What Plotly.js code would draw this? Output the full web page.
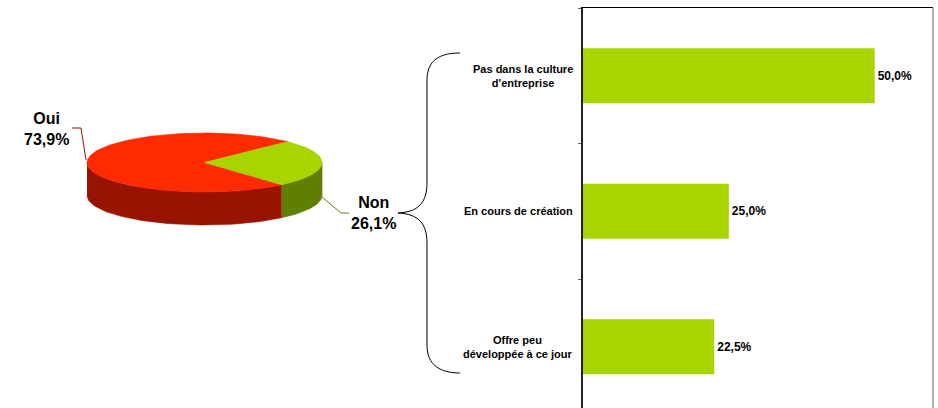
<!DOCTYPE html>
<html>
<head>
<meta charset="utf-8">
<script src="https://cdn.plot.ly/plotly-3.0.1.min.js"></script>
<style>html,body{margin:0;padding:0;background:#fff;}#chart{width:938px;height:408px;}</style>
</head>
<body>
<div id="chart"></div>
<script>
// ---- Data ----
var pieLabels = ['Oui', 'Non'];
var pieValues = [73.9, 26.1];
var barCategories = ["Pas dans la culture<br>d'entreprise", "En cours de création", "Offre peu<br>développée à ce jour"];
var barValues = [50.0, 25.0, 22.5];

function fmt(v){ return v.toFixed(1).replace('.', ',') + '%'; }

// ---- Pie geometry (pixel-mapped helper axis) ----
var cx = 204.5, cy = 162.5, rx = 117.5, ry = 29.5, depth = 33;
var startAngle = 45; // degrees, Non slice starts here going clockwise
var topColors = ['#FF2A00', '#A8D400'];
var sideColors = ['#991400', '#5F7F00'];

function pt(a){ var r = a*Math.PI/180; return [cx + rx*Math.cos(r), cy - ry*Math.sin(r)]; }
function arc(a0, a1, dy){
  var xs=[], ys=[], n=Math.max(2, Math.ceil(Math.abs(a1-a0)/2));
  for (var i=0;i<=n;i++){ var a=a0+(a1-a0)*i/n; var p=pt(a); xs.push(p[0]); ys.push(p[1]+(dy||0)); }
  return [xs, ys];
}
var total = pieValues.reduce(function(s,v){return s+v;},0);
var nonSpan = pieValues[1]/total*360;
// Non: from startAngle clockwise; Oui: the rest
var nonA0 = startAngle - nonSpan, nonA1 = startAngle;       // e.g. -49 .. 45
var ouiA0 = startAngle, ouiA1 = startAngle + (pieValues[0]/total*360); // 45 .. 311
var spans = [[ouiA0, ouiA1], [nonA0 + 360, nonA1 + 360]];

var traces = [];
function sideTrace(a0, a1, color){
  var lo = Math.max(a0, 180), hi = Math.min(a1, 360);
  if (hi <= lo) return;
  var top = arc(lo, hi, 0), bot = arc(hi, lo, depth);
  traces.push({type:'scatter', mode:'lines', x: top[0].concat(bot[0]), y: top[1].concat(bot[1]),
    fill:'toself', fillcolor: color, line:{width:0.6, color: color}, xaxis:'x2', yaxis:'y2', hoverinfo:'skip', showlegend:false});
}
// sides (red: 180..311, green: 311..360)
sideTrace(spans[0][0], spans[0][1], sideColors[0]);
sideTrace(spans[1][0]-360+360, 360, sideColors[1]);
sideTrace(spans[1][0]-360, spans[1][1]-360, sideColors[1]);
// tops
for (var k=0;k<2;k++){
  var a = arc(spans[k][0], spans[k][1], 0);
  traces.push({type:'scatter', mode:'lines', x:[cx].concat(a[0]).concat([cx]), y:[cy].concat(a[1]).concat([cy]),
    fill:'toself', fillcolor: topColors[k], line:{width:0.6, color: topColors[k]}, xaxis:'x2', yaxis:'y2', hoverinfo:'skip', showlegend:false});
}

// ---- Bars ----
traces.push({
  type:'bar', orientation:'h', y: barCategories, x: barValues,
  marker:{color:'#A8D400'}, text: barValues.map(function(v){return '<b>'+fmt(v)+'</b>';}),
  textposition:'outside', cliponaxis:false, textfont:{size:12, color:'#000', family:'Liberation Sans, Arial, sans-serif'},
  hoverinfo:'skip', showlegend:false, xaxis:'x', yaxis:'y'
});

var ff = 'Liberation Sans, Arial, sans-serif';
var annotations = [];
barCategories.forEach(function(c){
  annotations.push({xref:'paper', yref:'y', x: 575/933, y: c, xanchor:'right', yanchor:'middle', align:'center',
    text:'<b>'+c+'</b>', showarrow:false, font:{size:11, color:'#000', family:ff}});
});
annotations.push({xref:'x2', yref:'y2', x:46, y:128.5, text:'<b>'+pieLabels[0]+'</b><br><b>'+fmt(pieValues[0])+'</b>',
  showarrow:false, align:'center', font:{size:16, color:'#000', family:ff}});
annotations.push({xref:'x2', yref:'y2', x:373, y:212.5, text:'<b>'+pieLabels[1]+'</b><br><b>'+fmt(pieValues[1])+'</b>',
  showarrow:false, align:'center', font:{size:16, color:'#000', family:ff}});

var shapes = [
  // right frame line
  {type:'line', xref:'paper', yref:'paper', x0:1, x1:1, y0:0, y1:1, line:{color:'#999999', width:1.5}},
  // Oui leader line
  {type:'path', xref:'x2', yref:'y2', path:'M 72 128 L 81 128 L 86 160', line:{color:'#991400', width:1}},
  // Non leader line
  {type:'path', xref:'x2', yref:'y2', path:'M 322 197 L 341 213 L 349 213', line:{color:'#6B7A00', width:1}},
  // curly brace
  {type:'path', xref:'x2', yref:'y2',
   path:'M 460 53 C 440 53 427 60 427 80 L 427 183 C 427 203 418 212 398 213 C 418 214 427 223 427 243 L 427 345 C 427 365 440 373 460 373',
   line:{color:'#000', width:1}}
];

var layout = {
  width:938, height:408, margin:{l:0, r:5, t:8, b:0, pad:0},
  paper_bgcolor:'#fff', plot_bgcolor:'rgba(0,0,0,0)', showlegend:false,
  font:{family:ff, color:'#000'},
  bargap: 0.594,
  xaxis:{domain:[583/933, 1], range:[0, 60], side:'top', showline:true, linecolor:'#000', linewidth:1.3,
    showgrid:false, zeroline:false, showticklabels:false, ticks:'', fixedrange:true},
  yaxis:{domain:[0,1], range:[2.452, -0.5], showline:true, linecolor:'#222', linewidth:1.6,
    ticks:'outside', tickson:'boundaries', ticklen:3, tickcolor:'#666', showticklabels:false,
    showgrid:false, zeroline:false, fixedrange:true},
  xaxis2:{domain:[0, 0.6], range:[0, 0.6*933], anchor:'y2', visible:false, fixedrange:true},
  yaxis2:{domain:[0, 1], range:[408, 8], anchor:'x2', visible:false, fixedrange:true},
  annotations: annotations, shapes: shapes
};
Plotly.newPlot('chart', traces, layout, {displayModeBar:false, staticPlot:true});
</script>
</body>
</html>
